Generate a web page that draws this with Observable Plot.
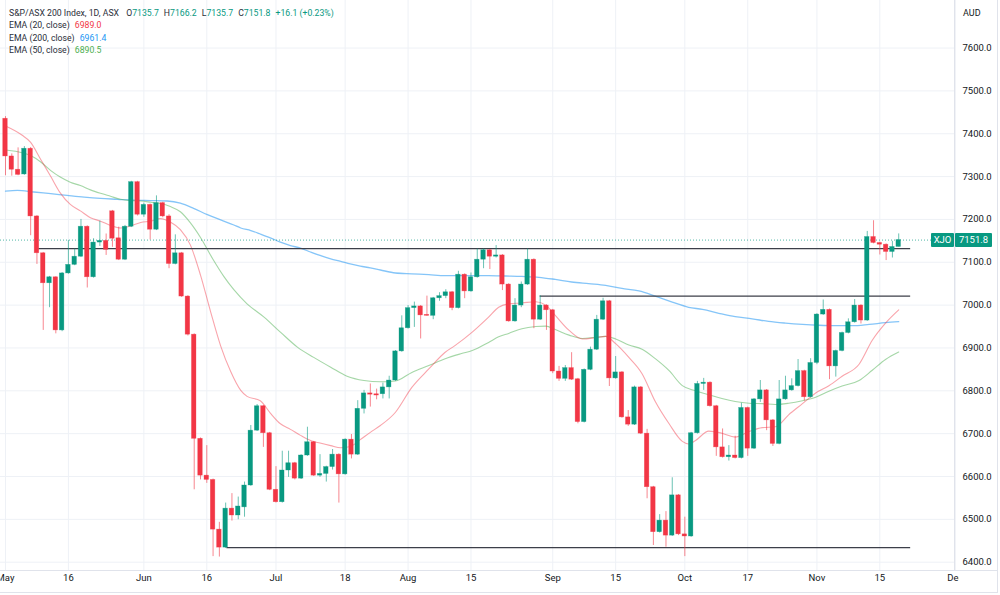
<!DOCTYPE html>
<html>
<head>
<meta charset="utf-8">
<script src="https://cdn.jsdelivr.net/npm/d3@7"></script>
<script src="https://cdn.jsdelivr.net/npm/@observablehq/plot@0.6"></script>
<style>
  body { margin: 0; background: #ffffff; }
  #chart { position: relative; width: 1000px; height: 595px; overflow: hidden;
           font-family: Roboto, "Liberation Sans", sans-serif; color: #131722; }
  #chart svg { position: absolute; left: 0; top: 0; }
  #legend { position: absolute; left: 9px; top: 7px; font-size: 8.7px; line-height: 12.4px; color: #2a2e39; white-space: nowrap; }
  #legend .v { margin-left: 5px; }
  #legend .k { margin-left: 5px; color: #2a2e39; }
  .tag { position: absolute; height: 14px; line-height: 14px; font-size: 9.5px; color: #fff;
         background: #089981; text-align: center; border-radius: 1px; }
  #unit { position: absolute; left: 963px; top: 8px; font-size: 9px; color: #131722; }
  .edge { position: absolute; background: #e0e3eb; }
</style>
</head>
<body>
<div id="chart">
  <div id="legend"></div>
  <div id="unit">AUD</div>
</div>
<script>
// S&P/ASX 200 daily candles, 2 May – 18 Nov 2022 (one entry per trading day)
const open = [
  7435, 7347, 7316, 7305, 7365, 7207, 7121, 7051, 7065, 6941,
  7074, 7094, 7113, 7183, 7065, 7146, 7150, 7219, 7156, 7106,
  7183, 7287, 7211, 7234, 7176, 7238, 7207, 7096, 7121, 7020,
  6931, 6688, 6602, 6592, 6476, 6434, 6525, 6509, 6528, 6579,
  6707, 6764, 6701, 6569, 6540, 6614, 6631, 6595, 6649, 6680,
  6602, 6606, 6622, 6651, 6605, 6686, 6651, 6758, 6794, 6792,
  6792, 6808, 6824, 6892, 6946, 6993, 6997, 6977, 6975, 7016,
  7021, 7030, 6993, 7071, 7032, 7065, 7106, 7128, 7113, 7116,
  7048, 6962, 6999, 7048, 7106, 6966, 6999, 6988, 6845, 6828,
  6853, 6827, 6727, 6849, 6896, 6966, 7009, 6829, 6843, 6738,
  6721, 6808, 6700, 6575, 6470, 6497, 6462, 6556, 6465, 6460,
  6701, 6816, 6819, 6764, 6668, 6645, 6649, 6643, 6760, 6665,
  6780, 6801, 6731, 6676, 6780, 6801, 6811, 6846, 6785, 6865,
  6978, 6989, 6857, 6893, 6935, 6960, 6999, 6964, 7159, 7145,
  7141, 7124, 7135.7
];
const high = [
  7440, 7353, 7367, 7370, 7368, 7209, 7123, 7067, 7066, 7076,
  7151, 7131, 7200, 7185, 7155, 7196, 7166, 7221, 7182, 7186,
  7289, 7289, 7238, 7236, 7255, 7240, 7211, 7164, 7123, 7022,
  6933, 6690, 6672, 6594, 6493, 6538, 6560, 6552, 6587, 6719,
  6768, 6766, 6703, 6623, 6659, 6659, 6633, 6651, 6715, 6682,
  6651, 6624, 6663, 6653, 6688, 6698, 6777, 6801, 6816, 6804,
  6818, 6834, 6894, 6975, 6999, 7007, 6999, 7021, 7018, 7029,
  7036, 7032, 7079, 7073, 7075, 7131, 7131, 7130, 7139, 7118,
  7050, 7015, 7054, 7131, 7108, 7022, 7001, 6990, 6857, 6859,
  6889, 6829, 6851, 6902, 6976, 7016, 7011, 6880, 6845, 6754,
  6811, 6810, 6710, 6577, 6511, 6518, 6597, 6558, 6505, 6703,
  6822, 6829, 6821, 6766, 6711, 6672, 6694, 6771, 6762, 6782,
  6824, 6803, 6733, 6824, 6834, 6828, 6873, 6848, 6875, 6980,
  7012, 6991, 6895, 6937, 6968, 7013, 7001, 7172, 7197, 7147,
  7143, 7149, 7166.2
];
const low = [
  7302, 7301, 7302, 7303, 7162, 7095, 6941, 6994, 6933, 6938,
  7072, 7092, 7111, 7040, 7063, 7137, 7116, 7135, 7104, 7104,
  7181, 7208, 7205, 7152, 7174, 7204, 7085, 7094, 7018, 6928,
  6569, 6592, 6584, 6413, 6412, 6432, 6496, 6499, 6505, 6577,
  6705, 6668, 6567, 6538, 6538, 6598, 6592, 6593, 6647, 6600,
  6598, 6587, 6615, 6538, 6603, 6641, 6649, 6746, 6762, 6779,
  6781, 6781, 6822, 6890, 6944, 6948, 6921, 6974, 6966, 7009,
  7015, 6987, 6991, 7015, 7030, 7063, 7085, 7083, 7110, 7034,
  6960, 6960, 6994, 7046, 6945, 6964, 6941, 6840, 6822, 6822,
  6824, 6723, 6725, 6847, 6894, 6964, 6810, 6827, 6736, 6717,
  6719, 6698, 6548, 6439, 6468, 6435, 6460, 6462, 6413, 6458,
  6699, 6801, 6762, 6647, 6643, 6636, 6641, 6641, 6647, 6663,
  6773, 6707, 6670, 6674, 6778, 6799, 6809, 6776, 6783, 6861,
  6976, 6826, 6832, 6891, 6933, 6958, 6956, 6962, 7143, 7117,
  7104, 7110, 7135.7
];
const close = [
  7347, 7316, 7304, 7365, 7207, 7121, 7051, 7065, 6941, 7074,
  7094, 7113, 7183, 7065, 7146, 7150, 7129, 7155, 7106, 7183,
  7287, 7211, 7234, 7176, 7238, 7207, 7096, 7121, 7020, 6931,
  6688, 6602, 6592, 6476, 6434, 6525, 6509, 6530, 6579, 6707,
  6764, 6701, 6569, 6540, 6614, 6631, 6595, 6649, 6680, 6602,
  6606, 6622, 6651, 6605, 6686, 6651, 6758, 6794, 6791, 6789,
  6808, 6824, 6892, 6946, 6993, 6997, 6976, 6975, 7016, 7021,
  7030, 6993, 7071, 7032, 7065, 7106, 7128, 7113, 7116, 7048,
  6962, 6999, 7048, 7106, 6966, 6999, 6988, 6845, 6828, 6853,
  6826, 6727, 6849, 6896, 6966, 7009, 6829, 6843, 6738, 6721,
  6808, 6700, 6575, 6470, 6497, 6462, 6556, 6465, 6460, 6701,
  6816, 6819, 6764, 6668, 6645, 6649, 6643, 6760, 6665, 6780,
  6801, 6731, 6676, 6780, 6801, 6811, 6846, 6785, 6865, 6978,
  6989, 6857, 6893, 6935, 6960, 6999, 6964, 7159, 7145, 7141,
  7124, 7135.7, 7151.8
];

// Exponential moving averages, sampled along the bar axis (bar position, value)
const ema20At = [0, 2.6, 4, 5.6, 7.2, 8.7, 10.3, 11.9, 13.5, 15.1, 16.7, 18.3, 19.9, 21.5, 23.1, 24.6, 26.2, 27.8, 29.4, 31, 32.6, 34.2, 35.8, 37.4, 38.4, 40.5, 42.1, 43.7, 45.3, 46.9, 48.5, 50, 51.7, 53.3, 54.8, 56.4, 58, 59.6, 62, 64.6, 67.3, 69.9, 71.5, 74.2, 76.8, 78.4, 80, 82.1, 84.3, 85.9, 87.4, 89.6, 91.7, 93.8, 95.4, 97, 99.1, 101.2, 103.3, 105.5, 107.6, 108.6, 109.7, 111.8, 113.9, 116, 118.2, 120.3, 122.4, 124.5, 126.7, 128.8, 130.9, 133, 135.7, 137.8, 139.9, 142];
const ema20   = [7418, 7397, 7380, 7340, 7300, 7262, 7235, 7220, 7204, 7196, 7186, 7180, 7185, 7193, 7196, 7202, 7194, 7176, 7140, 7070, 6985, 6905, 6845, 6801, 6787, 6777, 6748, 6723, 6710, 6696, 6684, 6678, 6672, 6667, 6670, 6686, 6703, 6719, 6750, 6808, 6851, 6890, 6906, 6937, 6972, 6995, 7003, 7005, 7008, 7000, 6976, 6941, 6921, 6924, 6927, 6910, 6878, 6840, 6775, 6723, 6682, 6676, 6684, 6706, 6701, 6692, 6705, 6714, 6716, 6744, 6770, 6795, 6812, 6834, 6862, 6918, 6958, 6989];

const ema50At = [0, 1.6, 4, 5.6, 7.2, 8.7, 10.3, 11.9, 13.5, 15.1, 16.7, 18.3, 19.9, 21.5, 23.1, 24.6, 26.2, 27.8, 29.4, 31, 33.1, 34.7, 36.3, 38.4, 41.1, 43.7, 46.4, 49, 51.7, 54.3, 57, 59.6, 62, 64.6, 67.3, 69.9, 72.5, 74.2, 76.8, 78.4, 80, 82.1, 84.3, 85.9, 87.4, 89.6, 91.7, 93.8, 95.4, 97, 99.1, 101.2, 103.3, 105.5, 107.6, 109.7, 111.8, 113.9, 116, 118.2, 120.3, 122.4, 124.5, 126.7, 128.8, 130.9, 133, 135.7, 137.8, 139.9, 142];
const ema50   = [7362, 7359, 7349, 7334, 7314, 7299, 7287, 7279, 7269, 7261, 7254, 7247, 7244, 7243, 7240, 7237, 7230, 7218, 7192, 7158, 7104, 7067, 7036, 7003, 6972, 6937, 6902, 6878, 6855, 6834, 6824, 6821, 6823, 6843, 6859, 6875, 6887, 6894, 6913, 6926, 6934, 6945, 6950, 6951, 6943, 6930, 6922, 6925, 6927, 6921, 6907, 6897, 6875, 6847, 6812, 6800, 6791, 6782, 6775, 6771, 6770, 6768, 6771, 6777, 6785, 6799, 6811, 6824, 6848, 6873, 6890.5];

const ema200At = [0, 1.9, 4.5, 7.2, 9.8, 12.5, 15.1, 17.8, 20.4, 23.1, 25.7, 27.8, 29.9, 32.1, 34.2, 36.3, 37.4, 39, 40.5, 42.1, 43.7, 45.3, 46.9, 48.5, 50, 51.7, 53.3, 54.8, 56.4, 58, 59.6, 62, 64.6, 67.3, 69.9, 72.5, 76.8, 79.5, 82.1, 84.8, 87.4, 90, 92.7, 95.4, 98, 100.7, 103.3, 106, 108.6, 110.8, 113.4, 116, 118.7, 121.3, 124, 126.7, 129.3, 132, 134.6, 137.3, 139.9, 142];
const ema200   = [7266, 7268, 7264, 7260, 7256, 7252, 7249, 7247, 7245, 7244, 7243, 7238, 7226, 7211, 7199, 7187, 7180, 7174, 7166, 7157, 7147, 7139, 7133, 7124, 7116, 7108, 7102, 7096, 7091, 7087, 7082, 7075, 7073, 7071, 7069, 7069, 7069, 7068, 7067, 7065, 7060, 7054, 7050, 7046, 7039, 7033, 7021, 7007, 6995, 6990, 6981, 6973, 6968, 6962, 6958, 6955, 6953, 6952, 6952, 6955, 6959, 6961.4];

// Horizontal levels drawn on the chart: price, first bar, last bar
const levelPrice = [7132, 7021, 6434];
const levelFrom  = [5.3, 85, 35.2];
const levelTo    = [143.9, 143.9, 143.9];

// Time-axis ticks (bar position) and their labels
const tickAt     = [0, 10, 22, 32, 43, 54, 64, 74, 87, 97, 108, 118, 129, 139, 151];
const tickLabels = ["May", "16", "Jun", "16", "Jul", "18", "Aug", "15", "Sep", "15", "Oct", "17", "Nov", "15", "Dec"];

// Price-axis ticks
const priceTicks = [6400, 6500, 6600, 6700, 6800, 6900, 7000, 7100, 7200, 7300, 7400, 7500, 7600];

const symbol = "XJO";
const lastClose = close[close.length - 1];
const prevClose = close[close.length - 2];

const UP = "#089981", DOWN = "#f23645";
const bars = close.map((c, i) => {
  const o = open[i];
  const lo = Math.min(o, c), hi = Math.max(o, c);
  return { i, open: o, high: high[i], low: low[i], close: c,
           b1: lo, b2: Math.max(hi, lo + 2.4), color: c >= o ? UP : DOWN };
});
const series = (at, vals) => vals.map((v, k) => ({ x: at[k], y: v }));
const levels = levelPrice.map((p, k) => ({ p, x1: levelFrom[k], x2: levelTo[k] }));

const W = 1000, H = 595, mR = 46, mB = 25;
const xDomain = [-0.795, 150.87];
const yDomain = [6380.6, 7711];

const chart = Plot.plot({
  width: W, height: H,
  marginTop: 0, marginLeft: 0, marginRight: mR, marginBottom: mB,
  style: { background: "transparent", fontFamily: "Roboto, 'Liberation Sans', sans-serif", fontSize: "9.5px", color: "#131722" },
  x: { type: "linear", domain: xDomain, axis: null },
  y: { type: "linear", domain: yDomain, axis: null },
  marks: [
    Plot.gridY(priceTicks, { stroke: "#eef1f6", strokeOpacity: 1 }),
    Plot.gridX(tickAt, { stroke: "#eef1f6", strokeOpacity: 1 }),
    // moving averages
    Plot.line(series(ema200At, ema200), { x: "x", y: "y", curve: "monotone-x", stroke: "#2196f3", strokeOpacity: 0.55, strokeWidth: 1.3 }),
    Plot.line(series(ema50At, ema50), { x: "x", y: "y", curve: "monotone-x", stroke: "#4caf50", strokeOpacity: 0.5, strokeWidth: 1.1 }),
    Plot.line(series(ema20At, ema20), { x: "x", y: "y", curve: "monotone-x", stroke: "#f23645", strokeOpacity: 0.45, strokeWidth: 1.1 }),
    // horizontal levels
    Plot.ruleY(levels, { y: "p", x1: "x1", x2: "x2", stroke: "#3c3f49", strokeWidth: 1.2 }),
    // last-price line
    Plot.ruleY([lastClose], { x1: xDomain[0], x2: 147.4, stroke: UP, strokeOpacity: 0.7, strokeDasharray: "1,2" }),
    // candles
    Plot.ruleX(bars, { x: "i", y1: "low", y2: "high", stroke: "color", strokeOpacity: 0.6, strokeWidth: 1 }),
    Plot.rect(bars, { x1: d => d.i - 0.36, x2: d => d.i + 0.36, y1: "b1", y2: "b2", fill: "color", stroke: "color", strokeWidth: 0.6, strokeOpacity: 0.5 }),
    // axes
    Plot.axisY(priceTicks, { anchor: "right", tickSize: 0, tickPadding: 8, tickFormat: d => d.toFixed(1), fontSize: 9.5 }),
    Plot.axisX(tickAt, { anchor: "bottom", tickSize: 0, tickPadding: 4, tickFormat: (d, k) => tickLabels[k], fontSize: 9.5 })
  ]
});

const root = document.getElementById("chart");
root.insertBefore(chart, root.firstChild);

// clip the time-axis labels to the pane width
const svgNS = "http://www.w3.org/2000/svg";
const defs = document.createElementNS(svgNS, "defs");
const cp = document.createElementNS(svgNS, "clipPath");
cp.setAttribute("id", "timeclip");
const cr = document.createElementNS(svgNS, "rect");
cr.setAttribute("x", 0); cr.setAttribute("y", 0);
cr.setAttribute("width", 958); cr.setAttribute("height", H);
cp.appendChild(cr); defs.appendChild(cp); chart.appendChild(defs);
const xAxisG = chart.querySelector('[aria-label="x-axis tick label"]');
if (xAxisG) xAxisG.setAttribute("clip-path", "url(#timeclip)");

// pane edges and outer frame
const addEdge = (l, t, w, h) => { const e = document.createElement("div"); e.className = "edge";
  Object.assign(e.style, { left: l + "px", top: t + "px", width: w + "px", height: h + "px" }); root.appendChild(e); };
addEdge(W - mR, 0, 1, H - mB);
addEdge(0, H - mB, W - 3, 1);
addEdge(W - 3, 0, 1, H - 2);
addEdge(0, H - 3, W - 3, 1);

// legend
const fmt = v => v.toFixed(1);
const chg = lastClose - prevClose;
const pct = chg / prevClose * 100;
const leg = document.getElementById("legend");
leg.innerHTML =
  `<div>S&amp;P/ASX 200 Index, 1D, ASX ` +
  `<span class="k">O</span><span style="color:${UP}">${fmt(open[open.length-1])}</span>` +
  `<span class="k">H</span><span style="color:${UP}">${fmt(high[high.length-1])}</span>` +
  `<span class="k">L</span><span style="color:${UP}">${fmt(low[low.length-1])}</span>` +
  `<span class="k">C</span><span style="color:${UP}">${fmt(lastClose)}</span>` +
  `<span class="v" style="color:${UP}">${chg >= 0 ? "+" : ""}${fmt(chg)} (${chg >= 0 ? "+" : ""}${pct.toFixed(2)}%)</span></div>` +
  `<div>EMA (20, close)<span class="v" style="color:#f23645">${fmt(ema20[ema20.length-1])}</span></div>` +
  `<div>EMA (200, close)<span class="v" style="color:#2196f3">${fmt(ema200[ema200.length-1])}</span></div>` +
  `<div>EMA (50, close)<span class="v" style="color:#4caf50">${fmt(ema50[ema50.length-1])}</span></div>`;

// last-price tags on the price scale
const yS = chart.scale("y");
const yLast = yS.apply(lastClose);
const tag1 = document.createElement("div"); tag1.className = "tag";
Object.assign(tag1.style, { left: "931px", top: (yLast - 7) + "px", width: "23px" }); tag1.textContent = symbol;
const tag2 = document.createElement("div"); tag2.className = "tag";
Object.assign(tag2.style, { left: "955px", top: (yLast - 7) + "px", width: "37px" }); tag2.textContent = fmt(lastClose);
root.appendChild(tag1); root.appendChild(tag2);
</script>
</body>
</html>
